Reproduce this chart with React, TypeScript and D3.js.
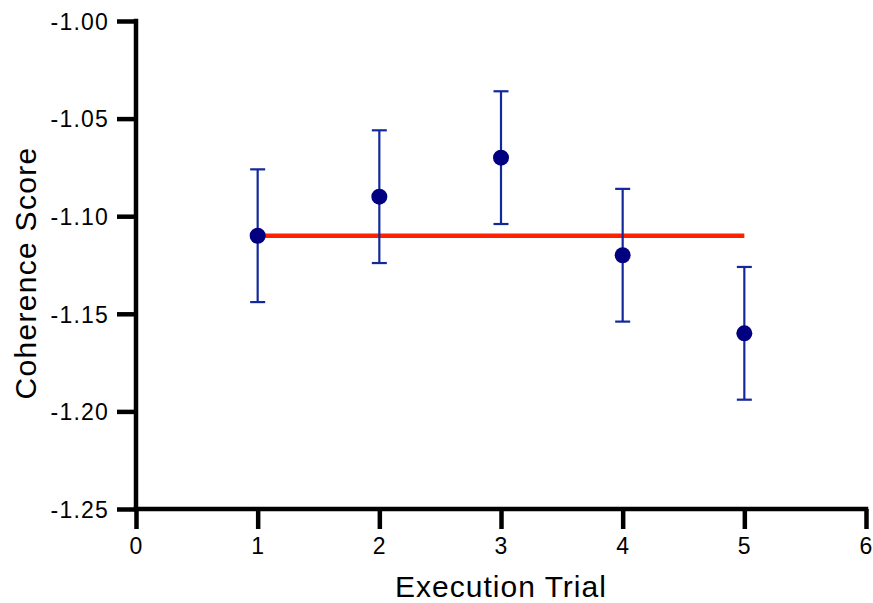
import React, { useEffect, useRef } from "react";
import * as d3 from "d3";

// Data
const trials = [1, 2, 3, 4, 5];
const means = [-1.11, -1.09, -1.07, -1.12, -1.16];
const errors = [0.034, 0.034, 0.034, 0.034, 0.034];
const refLevel = -1.11;
const xTicks = [0, 1, 2, 3, 4, 5, 6];
const yTicks = [-1.0, -1.05, -1.1, -1.15, -1.2, -1.25];

const W = 873;
const H = 603;

const App = () => {
  const ref = useRef<SVGSVGElement>(null);

  useEffect(() => {
    const svg = d3.select(ref.current);
    svg.selectAll("*").remove();

    const x = d3.scaleLinear().domain([0, 6]).range([136, 866]);
    const y = d3.scaleLinear().domain([-1.25, -1.0]).range([509, 21]);
    const font = "'Liberation Sans', Arial, sans-serif";

    // Y axis
    const yAxis = svg.append("g")
      .attr("transform", `translate(${x(0)},0)`)
      .call(d3.axisLeft(y).tickValues(yTicks).tickSize(19).tickPadding(8)
        .tickFormat(d => (d as number).toFixed(2)));
    // X axis
    const xAxis = svg.append("g")
      .attr("transform", `translate(0,${y(-1.25)})`)
      .call(d3.axisBottom(x).tickValues(xTicks).tickSize(20).tickPadding(9)
        .tickFormat(d => String(d)));

    [yAxis, xAxis].forEach(a => {
      a.select(".domain").attr("stroke", "#000").attr("stroke-width", 4.5)
        .attr("stroke-linecap", "square");
      a.selectAll(".tick line").attr("stroke", "#000").attr("stroke-width", 4.5);
      a.selectAll(".tick text")
        .attr("fill", "#000")
        .style("font-family", font)
        .style("font-size", "23px")
        .style("letter-spacing", "1.2px");
    });
    // remove outer tick stubs from domain path
    yAxis.select(".domain").attr("d", `M0,${y(-1.0)}V${y(-1.25)}`);
    xAxis.select(".domain").attr("d", `M${x(0)},0H${x(6)}`);
    yAxis.selectAll(".tick text").attr("dy", "0.36em");

    // Reference line
    svg.append("line")
      .attr("x1", x(trials[0]))
      .attr("x2", x(trials[trials.length - 1]))
      .attr("y1", y(refLevel))
      .attr("y2", y(refLevel))
      .attr("stroke", "#ff2200")
      .attr("stroke-width", 4.5);

    const pts = trials.map((t, i) => ({ t, m: means[i], e: errors[i] }));

    // Error bars
    const eb = svg.append("g")
      .attr("stroke", "#13299b")
      .attr("stroke-width", 2.2)
      .selectAll("g")
      .data(pts)
      .join("g");
    eb.append("line")
      .attr("x1", d => x(d.t)).attr("x2", d => x(d.t))
      .attr("y1", d => y(d.m + d.e)).attr("y2", d => y(d.m - d.e));
    eb.append("line")
      .attr("x1", d => x(d.t) - 7.5).attr("x2", d => x(d.t) + 7.5)
      .attr("y1", d => y(d.m + d.e)).attr("y2", d => y(d.m + d.e));
    eb.append("line")
      .attr("x1", d => x(d.t) - 7.5).attr("x2", d => x(d.t) + 7.5)
      .attr("y1", d => y(d.m - d.e)).attr("y2", d => y(d.m - d.e));

    // Points
    svg.append("g")
      .selectAll("circle")
      .data(pts)
      .join("circle")
      .attr("cx", d => x(d.t))
      .attr("cy", d => y(d.m))
      .attr("r", 8)
      .attr("fill", "#000080");

    // Axis titles
    svg.append("text")
      .attr("x", (x(0) + x(6)) / 2)
      .attr("y", 597)
      .attr("text-anchor", "middle")
      .style("font-family", font)
      .style("font-size", "30px")
      .style("letter-spacing", "1px")
      .text("Execution Trial");

    svg.append("text")
      .attr("transform", `translate(36,${(y(-1.0) + y(-1.25)) / 2 + 8}) rotate(-90)`)
      .attr("text-anchor", "middle")
      .style("font-family", font)
      .style("font-size", "30px")
      .style("letter-spacing", "1.3px")
      .text("Coherence Score");
  }, []);

  return (
    <svg
      ref={ref}
      width={W}
      height={H}
      style={{ position: "absolute", left: 0, top: 0, background: "#fff" }}
    />
  );
};

export default App;
